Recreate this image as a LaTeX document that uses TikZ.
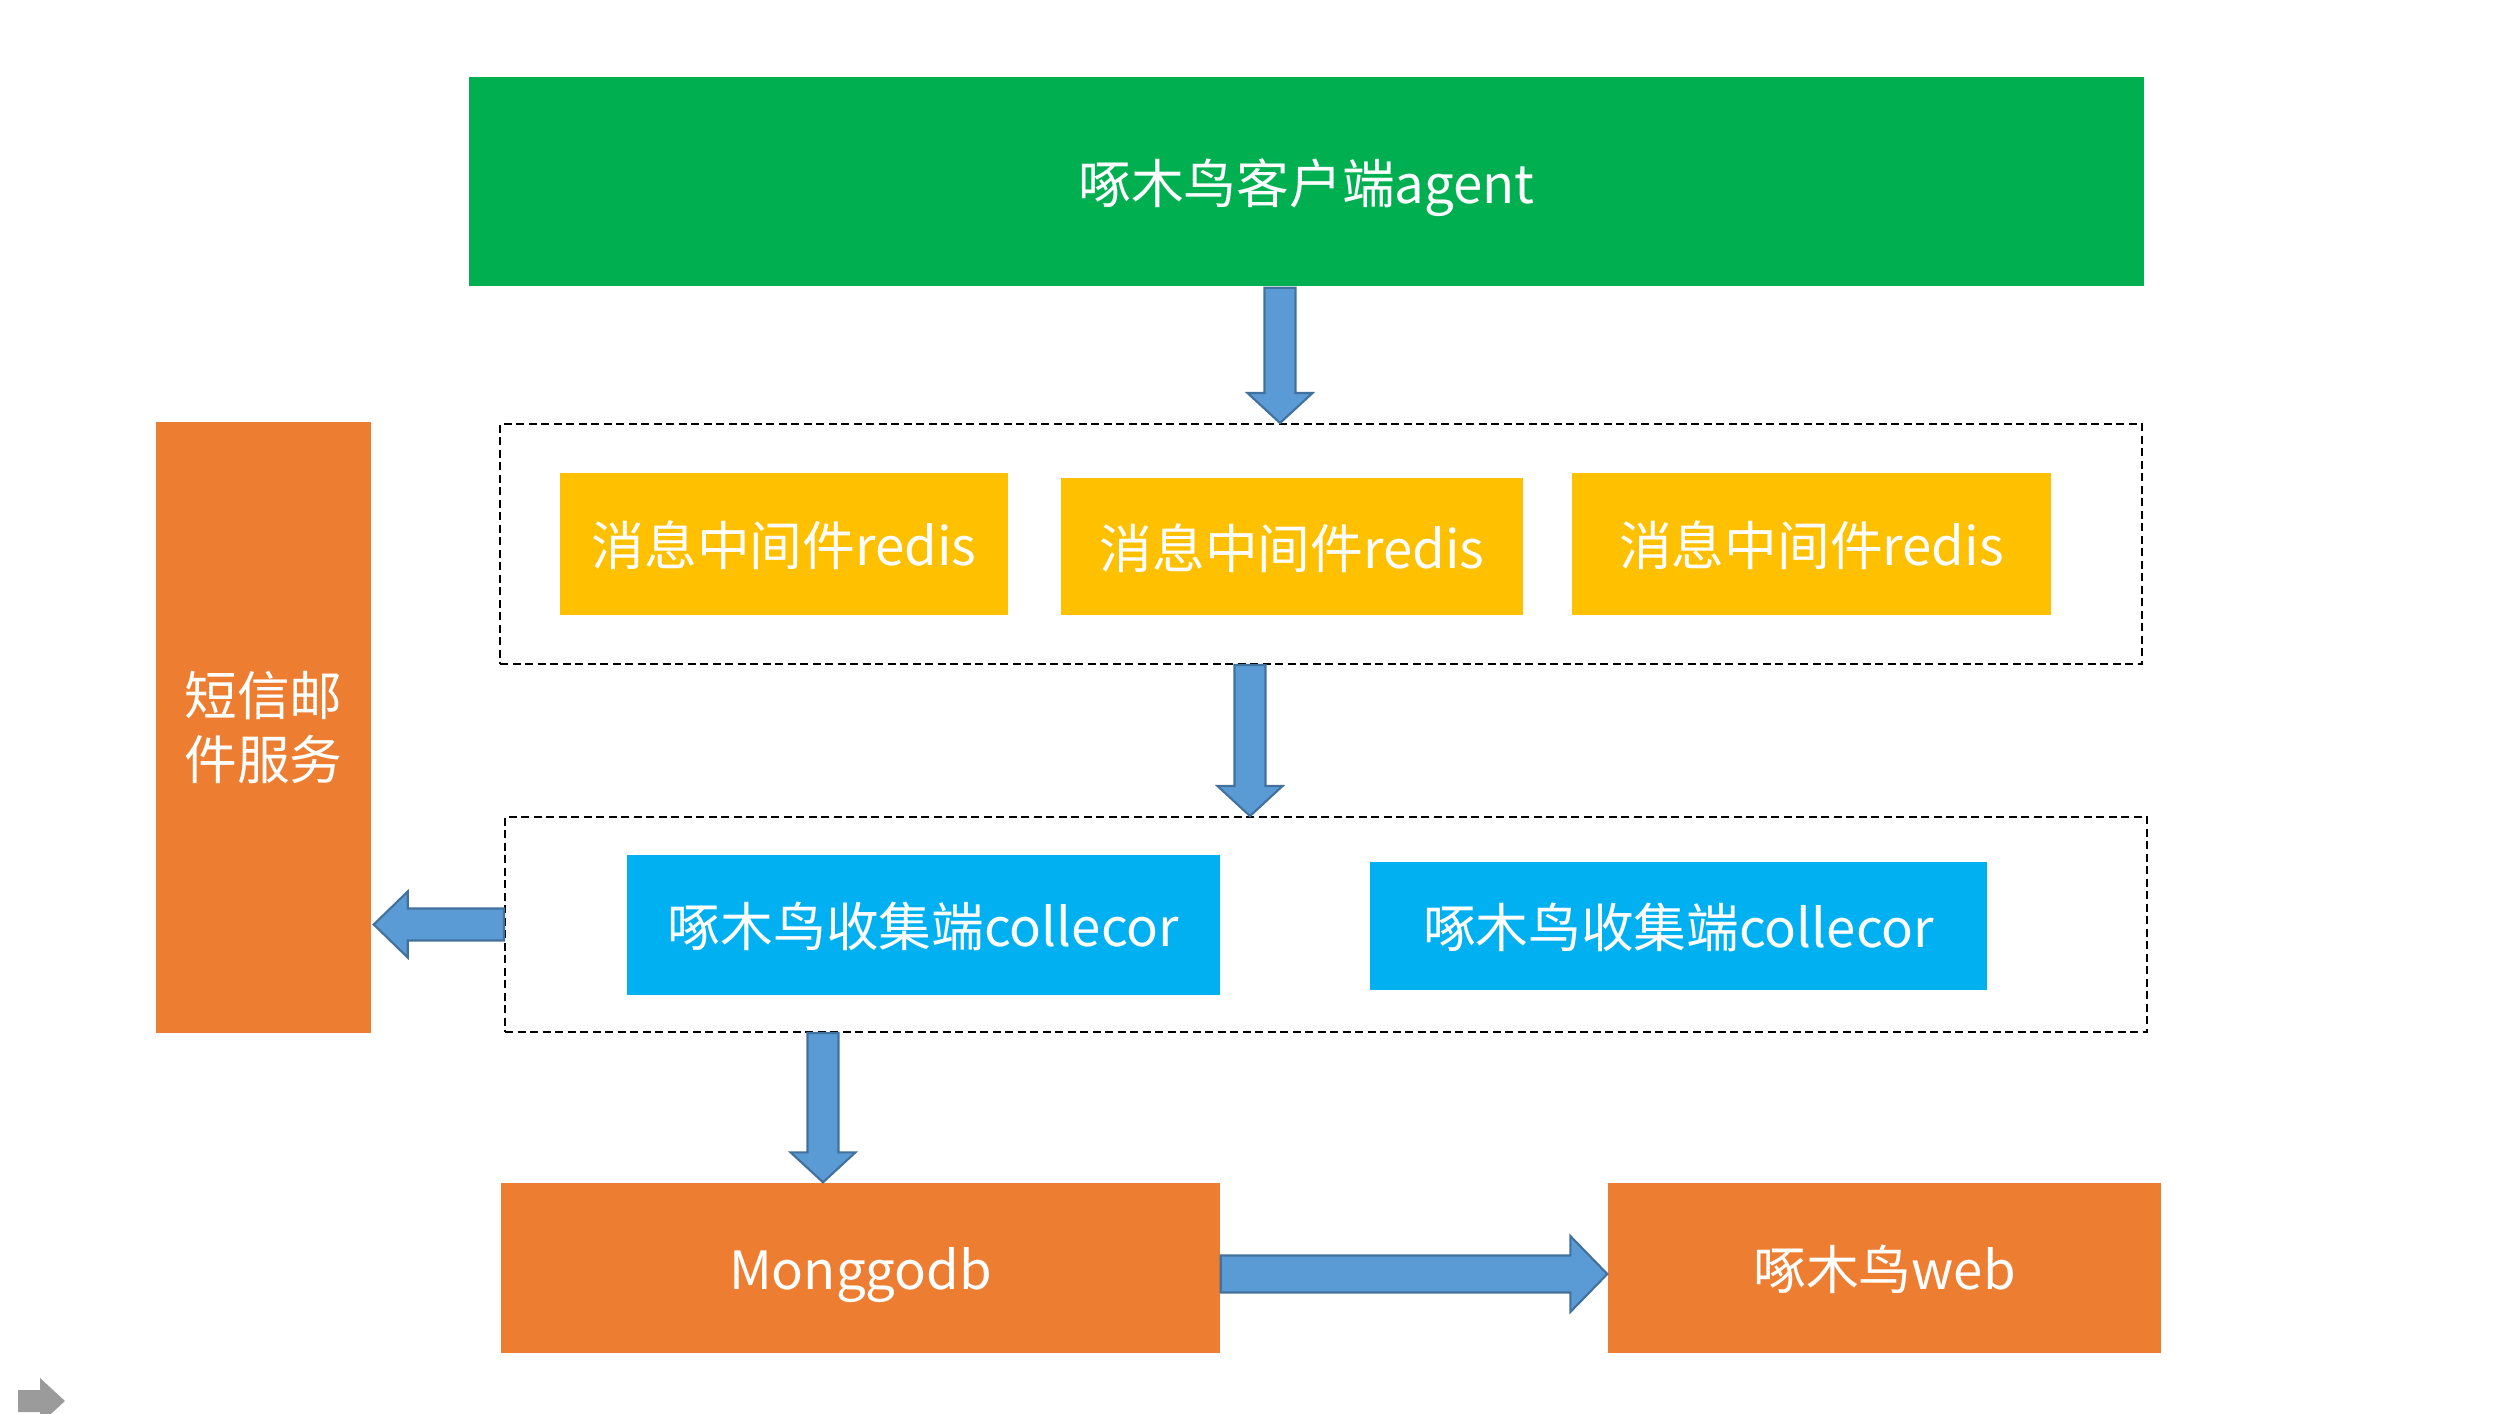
\documentclass[tikz,border=0pt]{standalone}
\usepackage{fontspec}
\setmainfont{Noto Sans CJK SC}
\usetikzlibrary{calc}
\definecolor{cgreen}{HTML}{00B050}
\definecolor{cyellow}{HTML}{FFC000}
\definecolor{cblue}{HTML}{00B0F0}
\definecolor{corange}{HTML}{ED7D31}
\definecolor{arrowfill}{HTML}{5B9BD5}
\definecolor{arrowdraw}{HTML}{41719C}
\definecolor{icongray}{HTML}{9B9B9B}
\tikzset{
  box/.style={rectangle, inner sep=0pt, text=white, font=\fontsize{15pt}{18pt}\selectfont, align=center},
  onebox/.style={box, text height=13.2pt, text depth=0.8pt},
  groupbox/.style={rectangle, draw=black, line width=0.55pt, dash pattern=on 0.8mm off 0.45mm, inner sep=0pt},
  blockarrow/.style={fill=arrowfill, draw=arrowdraw, line width=0.6pt, line join=miter},
}
\newcommand{\blockarrowD}[5]{%
  \draw[blockarrow] let \p1=(#1), \p2=(#2) in
    (\x1-#3,\y1) -- (\x1+#3,\y1) -- (\x1+#3,\y2+#5) -- (\x1+#4,\y2+#5) -- (\x1,\y2)
    -- (\x1-#4,\y2+#5) -- (\x1-#3,\y2+#5) -- cycle;}
\newcommand{\blockarrowR}[5]{%
  \draw[blockarrow] let \p1=(#1), \p2=(#2) in
    (\x1,\y1+#3) -- (\x2-#5,\y1+#3) -- (\x2-#5,\y1+#4) -- (\x2,\y1) -- (\x2-#5,\y1-#4)
    -- (\x2-#5,\y1-#3) -- (\x1,\y1-#3) -- cycle;}
\newcommand{\blockarrowL}[5]{%
  \draw[blockarrow] let \p1=(#1), \p2=(#2) in
    (\x1,\y1+#3) -- (\x2+#5,\y1+#3) -- (\x2+#5,\y1+#4) -- (\x2,\y1) -- (\x2+#5,\y1-#4)
    -- (\x2+#5,\y1-#3) -- (\x1,\y1-#3) -- cycle;}
\begin{document}
\begin{tikzpicture}[x=0.1mm, y=-0.1mm]
\useasboundingbox[fill=white] (0,0) rectangle (2516,1414);

% top agent
\node[onebox, fill=cgreen, minimum width=167.5mm, minimum height=20.9mm] (agent) at (1306.5,181.5) {啄木鸟客户端agent};

% redis group
\node[groupbox, minimum width=164.2mm, minimum height=24mm] (grp1) at (1321,544) {};
\node[onebox, fill=cyellow, minimum width=44.8mm, minimum height=14.2mm] (redis1) at (784,544) {消息中间件redis};
\node[onebox, fill=cyellow, minimum width=46.2mm, minimum height=13.7mm] (redis2) at (1292,546.5) {消息中间件redis};
\node[onebox, fill=cyellow, minimum width=47.9mm, minimum height=14.2mm] (redis3) at (1811.5,544) {消息中间件redis};

% collector group
\node[groupbox, minimum width=164.2mm, minimum height=21.5mm] (grp2) at (1326,924.5) {};
\node[onebox, fill=cblue, minimum width=59.3mm, minimum height=14mm] (coll1) at (923.5,925) {啄木鸟收集端collecor};
\node[onebox, fill=cblue, minimum width=61.7mm, minimum height=12.8mm] (coll2) at (1678.5,926) {啄木鸟收集端collecor};

% left service
\node[box, fill=corange, minimum width=21.5mm, minimum height=61.1mm, font=\fontsize{15pt}{18.3pt}\selectfont] (sms) at (263.5,727.5) {短信邮\\件服务};

% bottom
\node[onebox, fill=corange, minimum width=71.9mm, minimum height=17mm] (mongo) at (860.5,1268) {Monggodb};
\node[onebox, fill=corange, minimum width=55.3mm, minimum height=17mm] (web) at (1884.5,1268) {啄木鸟web};

% arrows
\coordinate (a1s) at ([xshift=-2.65mm, yshift=-0.1mm]agent.south);
\coordinate (a1e) at (a1s |- grp1.north);
\blockarrowD{a1s}{a1e}{1.55mm}{3.25mm}{3mm}

\coordinate (a2s) at ([xshift=-7.1mm]grp1.south);
\coordinate (a2e) at (a2s |- grp2.north);
\blockarrowD{a2s}{a2e}{1.55mm}{3.25mm}{3mm}

\coordinate (a3s) at (grp2.west);
\coordinate (a3e) at ([xshift=0.2mm]a3s -| sms.east);
\blockarrowL{a3s}{a3e}{1.6mm}{3.3mm}{3.4mm}

\coordinate (a4s) at ([xshift=-50.3mm]grp2.south);
\coordinate (a4e) at (a4s |- mongo.north);
\blockarrowD{a4s}{a4e}{1.55mm}{3.25mm}{3mm}

\coordinate (a5s) at ([yshift=-0.6mm]mongo.east);
\coordinate (a5e) at (a5s -| web.west);
\blockarrowR{a5s}{a5e}{1.85mm}{3.8mm}{3.7mm}

% gray icon bottom left
\begin{scope}
\clip (0,0) rectangle (2516,1414);
\fill[icongray] (18,1390) -- (40,1390) -- (40,1378) -- (65,1401) -- (40,1424) -- (40,1412) -- (18,1412) -- cycle;
\end{scope}
\end{tikzpicture}
\end{document}
